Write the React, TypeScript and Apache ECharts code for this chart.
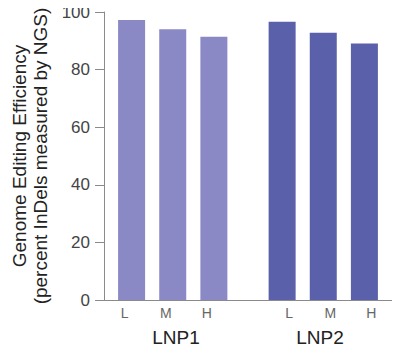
import React, { useEffect, useRef } from "react";
import * as echarts from "echarts";

const doseLabels = ["L", "M", "H"];
const groupLabels = ["LNP1", "LNP2"];
const lnp1Values = [97.2, 94.0, 91.4];
const lnp2Values = [96.6, 92.8, 89.1];
const yTicks = [0, 20, 40, 60, 80, 100];

export default function App() {
  const ref = useRef<HTMLDivElement>(null);
  useEffect(() => {
    if (!ref.current) return;
    const chart = echarts.init(ref.current, null, { renderer: "svg" });
    const categories = [...doseLabels, "", ...doseLabels];
    const blanks = doseLabels.map(() => null);
    const s1 = [...lnp1Values, null, ...blanks];
    const s2 = [...blanks, null, ...lnp2Values];
    const font = "'Liberation Sans', Arial, sans-serif";
    chart.setOption({
      animation: false,
      textStyle: { fontFamily: font },
      grid: { left: 104, right: 8, top: 12, bottom: 56 },
      xAxis: [
        {
          type: "category",
          data: categories,
          axisLine: { show: true, lineStyle: { color: "#8a8a8a", width: 1 } },
          axisTick: { show: false },
          axisLabel: { color: "#666", fontSize: 14, margin: 6, fontFamily: font },
        },
        {
          type: "category",
          position: "bottom",
          data: groupLabels,
          axisLine: { show: false },
          axisTick: { show: false },
          axisLabel: { color: "#222", fontSize: 19, margin: 28, fontFamily: font },
        },
      ],
      yAxis: {
        type: "value",
        min: yTicks[0],
        max: yTicks[yTicks.length - 1],
        interval: 20,
        name: "Genome Editing Efficiency\n(percent InDels measured by NGS)",
        nameLocation: "middle",
        nameRotate: 90,
        nameGap: 52,
        nameTextStyle: { color: "#222", fontSize: 19, lineHeight: 21, fontFamily: font },
        axisLine: { show: true, lineStyle: { color: "#8a8a8a", width: 1 } },
        axisTick: { show: true, length: 9, lineStyle: { color: "#8a8a8a" } },
        axisLabel: { color: "#444", fontSize: 17, margin: 14, fontFamily: font },
        splitLine: { show: false },
      },
      series: [
        {
          name: "LNP1",
          type: "bar",
          data: s1,
          barWidth: 27,
          barGap: "-152%",
          itemStyle: { color: "#8a88c5" },
        },
        {
          name: "LNP2",
          type: "bar",
          data: s2,
          barWidth: 27,
          barGap: "-152%",
          itemStyle: { color: "#5b60ab" },
        },
      ],
    });
    return () => chart.dispose();
  }, []);
  return <div ref={ref} style={{ width: 400, height: 356, margin: -8 }} />;
}
